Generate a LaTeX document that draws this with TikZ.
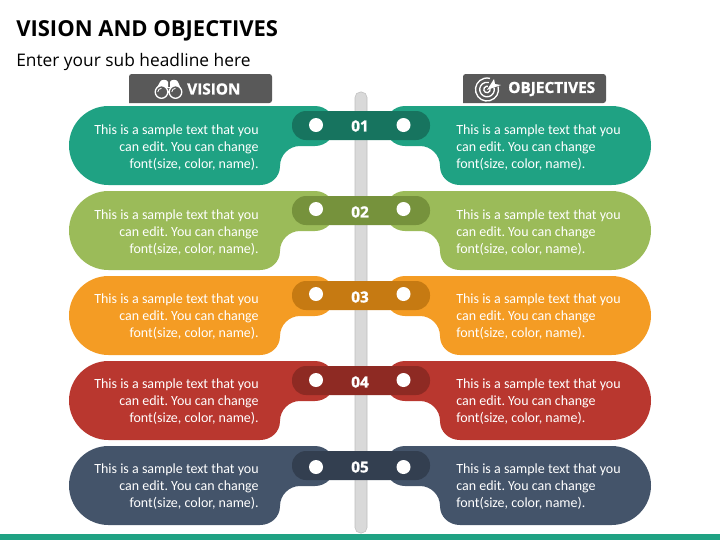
\documentclass[tikz,border=0pt]{standalone}
\usepackage{fontspec}
\setmainfont{Carlito}
\newfontfamily\headfont{Open Sans}
\newfontfamily\labelfont{Open Sans}[BoldFeatures={FakeBold=1.2}]
\frenchspacing
\definecolor{armA}{HTML}{1FA283}
\definecolor{armB}{HTML}{9BBB59}
\definecolor{armC}{HTML}{F49C24}
\definecolor{armD}{HTML}{B9372F}
\definecolor{armE}{HTML}{44546A}
\definecolor{pillA}{HTML}{17745F}
\definecolor{pillB}{HTML}{76923C}
\definecolor{pillC}{HTML}{C67A12}
\definecolor{pillD}{HTML}{8E2A23}
\definecolor{pillE}{HTML}{333F50}
\definecolor{headgrey}{HTML}{595959}
\tikzset{
  body text/.style={text=white,font=\fontsize{10.5}{12.75}\selectfont,inner sep=0pt},
  head label/.style={text=white,font=\labelfont\bfseries\fontsize{11.5}{13}\selectfont,inner sep=0pt,anchor=west},
  num label/.style={text=white,font=\labelfont\bfseries\fontsize{11.5}{13}\selectfont,inner sep=0pt},
  head box/.style={fill=headgrey,rounded corners=2pt},
}
\begin{document}
\begin{tikzpicture}[x=0.75pt,y=-0.75pt]
  \useasboundingbox (0,0) rectangle (720,540);
  % title
  \node[anchor=west,inner sep=0pt,font=\headfont\bfseries\fontsize{16.5}{18}\selectfont] (title) at (16,31) {VISION AND OBJECTIVES};
  \node[anchor=west,inner sep=0pt,font=\headfont\fontsize{13}{15}\selectfont] (subtitle) at (16,62) {Enter your sub headline here};
  \fill[armA] (0,534) rectangle (720,540);
  % centre bar
  \draw[fill=gray!30,draw=gray!50,rounded corners=4pt] (355,92) rectangle (367,533);
  % headers
  \fill[head box] (129,103) -- (129,74) -- (272,74) -- (272,103) [sharp corners] -- cycle;
  \fill[head box] (463,103) -- (463,74) -- (606,74) -- (606,103) [sharp corners] -- cycle;
  \node[head label] (vision) at (187,89) {VISION};
  \node[head label] (objectives) at (508,89) {OBJECTIVES};
  % binoculars
  \fill[white] (155,91) -- (160,82) .. controls (161,79) and (167,79) .. (168,82) -- (168,87) -- (170,87) -- (170,82) .. controls (171,79) and (177,79) .. (178,82) -- (182,91) -- (175,88) -- (162,88) -- cycle;
  \draw[white,fill=headgrey,line width=1pt] (161.5,92) circle (6.3) (175.5,92) circle (6.3);
  \draw[white,line width=0.6pt] (157.8,92) arc (180:270:3.7) (171.8,92) arc (180:270:3.7);
  % target
  \draw[white,line width=1pt] (487,89.5) ++(-15:11.5) arc (-15:285:11.5);
  \draw[white,line width=1pt] (487,89.5) ++(-15:7.3) arc (-15:285:7.3);
  \draw[white,line width=1pt] (487,89.5) ++(-15:3.2) arc (-15:285:3.2);
  \fill[white] (487,90) -- (494,79) -- (495,84) -- (501,85) -- cycle;
  % rows
  \foreach \n/\rowtop/\dotdy/\numdy/\textdy/\arm/\pill in {01/106/19/20/42/armA/pillA,02/191/18/21/42/armB/pillB,03/276/18/21/41/armC/pillC,04/361/19/21/41/armD/pillD,05/446/21/21/41/armE/pillE}{
    \foreach \side in {0,1}{
      \begin{scope}[shift={(720*\side,\rowtop)},xscale=1-2*\side]
        \fill[\arm] (108.5,0) -- (315,0) .. controls (326,0) and (335,9) .. (335,20)
          .. controls (335,31) and (326,40) .. (315,40) -- (300,40)
          .. controls (289,40) and (280,49) .. (280,60)
          .. controls (280,71) and (271,79) .. (260,79) -- (108.5,79)
          .. controls (86.7,79) and (69,61.3) .. (69,39.5)
          .. controls (69,17.7) and (86.7,0) .. (108.5,0) -- cycle;
      \end{scope}
    }
    \fill[\pill,rounded corners=10.5pt] (292,\rowtop+5) rectangle (430,\rowtop+34);
    \fill[white] (316,\rowtop+\dotdy) circle (7) (403.5,\rowtop+\dotdy) circle (7);
    \node[num label] (num\n) at (360,\rowtop+\numdy) {\n};
    \node[body text,anchor=east,align=right] (left\n) at (259,\rowtop+\textdy) {This is a sample text that you\\can edit. You can change\\font(size, color, name).};
    \node[body text,anchor=west,align=left] (right\n) at (456,\rowtop+\textdy) {This is a sample text that you\\can edit. You can change\\font(size, color, name).};
  }
\end{tikzpicture}
\end{document}
